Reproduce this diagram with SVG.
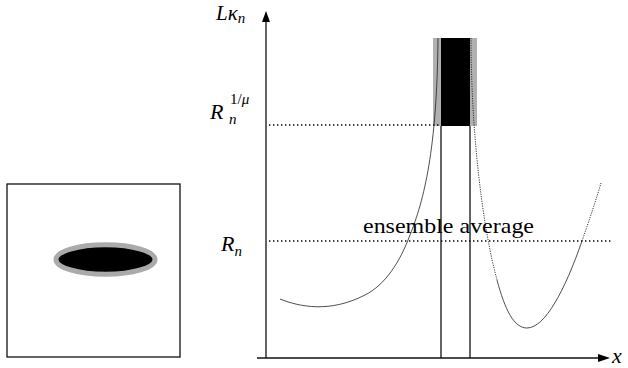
<svg xmlns="http://www.w3.org/2000/svg" width="628" height="368" viewBox="0 0 628 368">
<style>
.ax{stroke:#111;stroke-width:1.3;fill:none}
.dot{stroke:#000;stroke-width:1.6;stroke-dasharray:1.4 2.6;fill:none}
.cv{stroke:#222;stroke-width:0.8;fill:none}
.cvd{stroke:#222;stroke-width:0.9;stroke-dasharray:1.2 1.2;fill:none}
</style>
<rect width="628" height="368" fill="#fff"/>
<g id="inset">
<rect x="7" y="184" width="173" height="173" fill="#fff" stroke="#111" stroke-width="1.3"/>
<ellipse cx="105.5" cy="259.5" rx="49.5" ry="14.8" fill="#000" stroke="#aaa" stroke-width="5"/>
</g>
<g id="bar">
<rect x="433" y="38" width="8" height="88" fill="#b0b0b0"/>
<rect x="470" y="38" width="7" height="88" fill="#b0b0b0"/>
<rect x="441" y="38" width="29" height="88" fill="#000"/>
<line class="ax" x1="441" y1="126" x2="441" y2="358"/>
<line class="ax" x1="470" y1="126" x2="470" y2="358"/>
</g>
<g id="levels">
<line class="dot" x1="269" y1="125" x2="440" y2="125"/>
<line class="dot" x1="269" y1="241" x2="612" y2="241"/>
</g>
<g id="curve">
<path class="cv" d="M280,299 C300,307 330,313 365,295 C385,285 400,262 410,235 C424,200 437,150 438,38"/>
<path class="cvd" d="M471,38 C471,110 478,190 490,250 C493,265 495,272 497,280"/>
<path class="cv" d="M497,280 C505,310 514,328 527,328 C545,328 565,290 582,241"/>
<path class="cvd" d="M582,241 C590,218 596,200 601,183"/>
</g>
<g id="axes">
<line class="ax" x1="266" y1="358" x2="266" y2="20"/>
<polygon points="266,11 262,22 270,22" fill="#000"/>
<line class="ax" x1="257" y1="358" x2="600" y2="358"/>
<polygon points="610,358 598,354 598,362" fill="#000"/>
</g>
<g id="labels" font-family="'Liberation Serif', 'Times New Roman', Times, serif" fill="#000">
<text font-style="italic" x="216" y="20" font-size="21">Lκ<tspan font-size="15" dy="3">n</tspan></text>
<text font-style="italic" x="210" y="119" font-size="22">R</text>
<text x="230" y="104" font-size="15">1/<tspan font-style="italic">μ</tspan></text>
<text font-style="italic" x="229" y="124" font-size="15">n</text>
<text font-style="italic" x="221" y="251" font-size="22">R<tspan font-size="15" dy="5">n</tspan></text>
<text font-style="italic" x="612" y="363" font-size="22">x</text>
<text x="363" y="233" font-size="22" textLength="171" lengthAdjust="spacingAndGlyphs">ensemble average</text>
</g>
</svg>
